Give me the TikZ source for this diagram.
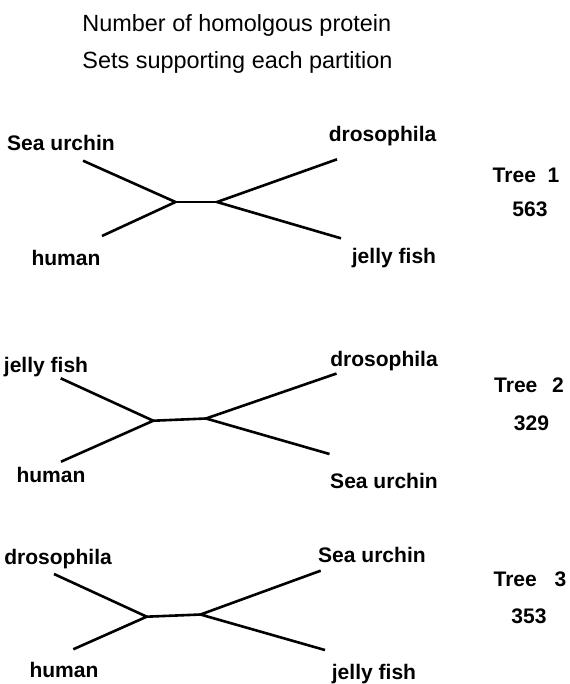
\documentclass[tikz,border=0pt]{standalone}
\usepackage{fontspec}
\setmainfont{Liberation Sans}
\usepackage{tikz}

\begin{document}
\begin{tikzpicture}[
  taxon/.style={font=\bfseries\fontsize{10.5}{12}\selectfont, inner sep=0pt},
  branch/.style={line width=1.3pt, black},
  caption/.style={font=\fontsize{11.7}{14}\selectfont, anchor=west, inner sep=0pt}]
\useasboundingbox (0,0) rectangle (10,-12);

% header
\node[caption] (head1) at (1.439,-0.439) {Number of homolgous protein};
\node[caption] (head2) at (1.439,-1.088) {Sets supporting each partition};

% tree 1
\coordinate (a1) at (3.079,-3.544);
\coordinate (b1) at (3.807,-3.544);
\coordinate (su1) at (1.456,-2.819);
\coordinate (hu1) at (1.789,-4.140);
\coordinate (dr1) at (5.912,-2.795);
\coordinate (jf1) at (5.982,-4.181);
\draw[branch] (su1) -- (a1) -- (hu1);
\draw[branch] (a1) -- (b1);
\draw[branch] (dr1) -- (b1) -- (jf1);
\node[taxon] (su1l) at (1.070,-2.509) {Sea urchin};
\node[taxon] (hu1l) at (1.158,-4.526) {human};
\node[taxon] (dr1l) at (6.711,-2.386) {drosophila};
\node[taxon] (jf1l) at (6.912,-4.535) {jelly fish};
\node[taxon] (tree1) at (9.228,-3.070) {Tree\hspace{0.55em}1};
\node[taxon] (num1) at (9.298,-3.667) {563};

% tree 2
\coordinate (a2) at (2.689,-7.381);
\coordinate (b2) at (3.614,-7.342);
\coordinate (jf2) at (1.065,-6.637);
\coordinate (hu2) at (1.070,-8.100);
\coordinate (dr2) at (5.904,-6.553);
\coordinate (su2) at (5.781,-7.965);
\draw[branch] (jf2) -- (a2) -- (hu2);
\draw[branch] (a2) -- (b2);
\draw[branch] (dr2) -- (b2) -- (su2);
\node[taxon] (jf2l) at (0.807,-6.433) {jelly fish};
\node[taxon] (hu2l) at (0.895,-8.333) {human};
\node[taxon] (dr2l) at (6.737,-6.328) {drosophila};
\node[taxon] (su2l) at (6.737,-8.433) {Sea urchin};
\node[taxon] (tree2) at (9.281,-6.767) {Tree\hspace{0.7em}2};
\node[taxon] (num2) at (9.325,-7.421) {329};

% tree 3
\coordinate (a3) at (2.574,-10.819);
\coordinate (b3) at (3.518,-10.781);
\coordinate (dr3) at (0.947,-10.070);
\coordinate (hu3) at (1.286,-11.391);
\coordinate (su3) at (5.626,-10.012);
\coordinate (jf3) at (5.702,-11.404);
\draw[branch] (dr3) -- (a3) -- (hu3);
\draw[branch] (a3) -- (b3);
\draw[branch] (su3) -- (b3) -- (jf3);
\node[taxon] (dr3l) at (1.018,-9.812) {drosophila};
\node[taxon] (hu3l) at (1.123,-11.754) {human};
\node[taxon] (su3l) at (6.526,-9.737) {Sea urchin};
\node[taxon] (jf3l) at (6.561,-11.825) {jelly fish};
\node[taxon] (tree3) at (9.298,-10.163) {Tree\hspace{0.85em}3};
\node[taxon] (num3) at (9.281,-10.807) {353};
\end{tikzpicture}
\end{document}
